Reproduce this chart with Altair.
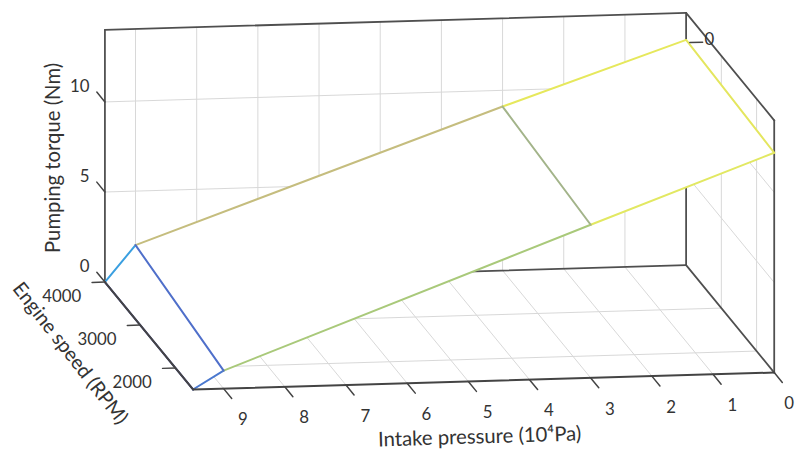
import altair as alt
import pandas as pd

# ---------------- data ----------------
pressure_grid = [9.5, 9.0, 3.0, 0.0]          # intake pressure, 10^4 Pa
speed_grid = [1500, 4000]                      # engine speed, RPM
torque_at_1500 = [0.0, 1.0, 8.5, 12.2]         # pumping torque, Nm
torque_at_4000 = [0.0, 2.0, 9.1, 12.5]

colors_along_p_1500 = ["#4a78cf", "#a9c97a", "#e2e862"]
colors_along_p_4000 = ["#3a9fe0", "#c5bd7e", "#e6e85c"]
colors_along_s = ["#3b3fa0", "#4f6fca", "#a3b48a", "#e4e65e"]

pressure_ticks = [0, 1, 2, 3, 4, 5, 6, 7, 8, 9]
speed_ticks = [2000, 3000, 4000]
torque_ticks = [0, 5, 10]
p_min, p_max = 0.0, 9.5
s_min, s_max = 1500, 4000
z_min, z_max = 0.0, 14.0

# ---------------- view: orthographic 3D -> 2D ----------------
W, H = 795, 446
ORIGIN = (774.0, 366.0)      # screen point of (p=0, s=1500, z=0)
EP = (-61.8, 1.8)            # per 10^4 Pa
ES = (-0.0356, -0.0434)      # per RPM
EZ = (0.0, -18.2)            # per Nm


def proj(p, s, z):
    ds = s - s_min
    return (ORIGIN[0] + EP[0] * p + ES[0] * ds + EZ[0] * z,
            ORIGIN[1] + EP[1] * p + ES[1] * ds + EZ[1] * z)


_sid = [0]


def seg_rows(pairs, color, width):
    rows = []
    for a, b in pairs:
        _sid[0] += 1
        for k, pt in enumerate((a, b)):
            x, y = proj(*pt)
            rows.append(dict(sid=_sid[0], k=k, x=x, y=y, color=color, w=width))
    return rows


GRID = "#d8d8d8"
BOX = "#4f4f4f"
TXT = "#333333"

# grid lines on back wall, floor and side wall
grid_pairs = []
for p in pressure_ticks[1:]:
    grid_pairs.append(((p, s_max, z_min), (p, s_max, z_max)))     # back wall
    grid_pairs.append(((p, s_min, z_min), (p, s_max, z_min)))     # floor
for z in torque_ticks[1:]:
    grid_pairs.append(((p_min, s_max, z), (p_max, s_max, z)))     # back wall
    grid_pairs.append(((p_min, s_min, z), (p_min, s_max, z)))     # side wall
for s in speed_ticks[:-1]:
    grid_pairs.append(((p_min, s, z_min), (p_max, s, z_min)))     # floor
    grid_pairs.append(((p_min, s, z_min), (p_min, s, z_max)))     # side wall
grid_df = pd.DataFrame(seg_rows(grid_pairs, GRID, 1.0))

back_pairs = [
    ((p_max, s_max, z_min), (p_max, s_max, z_max)),
    ((p_max, s_max, z_max), (p_min, s_max, z_max)),
    ((p_min, s_max, z_max), (p_min, s_max, z_min)),
    ((p_min, s_max, z_min), (p_max, s_max, z_min)),
    ((p_min, s_max, z_max), (p_min, s_min, z_max)),
    ((p_min, s_min, z_max), (p_min, s_min, z_min)),
    ((p_min, s_max, z_min), (p_min, s_min, z_min)),
]
back_df = pd.DataFrame(seg_rows(back_pairs, BOX, 1.8))

# white faces of the mesh (hidden-line removal)
face_rows = []
for i in range(len(pressure_grid) - 1):
    quad = [proj(pressure_grid[i], s_min, torque_at_1500[i]),
            proj(pressure_grid[i + 1], s_min, torque_at_1500[i + 1]),
            proj(pressure_grid[i + 1], s_max, torque_at_4000[i + 1]),
            proj(pressure_grid[i], s_max, torque_at_4000[i])]
    xs = sorted(set(round(v[0], 4) for v in quad))
    for x in xs:
        ys = []
        for j in range(4):
            (x1, y1), (x2, y2) = quad[j], quad[(j + 1) % 4]
            if abs(x2 - x1) < 1e-9:
                if abs(x - x1) < 1e-3:
                    ys += [y1, y2]
            elif min(x1, x2) - 1e-3 <= x <= max(x1, x2) + 1e-3:
                t = (x - x1) / (x2 - x1)
                ys.append(y1 + t * (y2 - y1))
        face_rows.append(dict(face=i, x=x, y=min(ys), y2=max(ys)))
face_df = pd.DataFrame(face_rows)

mesh_rows = []
for i in range(len(pressure_grid) - 1):
    mesh_rows += seg_rows([((pressure_grid[i], s_min, torque_at_1500[i]),
                            (pressure_grid[i + 1], s_min, torque_at_1500[i + 1]))],
                          colors_along_p_1500[i], 2.0)
    mesh_rows += seg_rows([((pressure_grid[i], s_max, torque_at_4000[i]),
                            (pressure_grid[i + 1], s_max, torque_at_4000[i + 1]))],
                          colors_along_p_4000[i], 2.0)
for i, p in enumerate(pressure_grid):
    mesh_rows += seg_rows([((p, s_min, torque_at_1500[i]), (p, s_max, torque_at_4000[i]))],
                          colors_along_s[i], 2.0)
mesh_df = pd.DataFrame(mesh_rows)

front_pairs = [
    ((p_min, s_min, z_min), (p_max, s_min, z_min)),
    ((p_max, s_min, z_min), (p_max, s_max, z_min)),
]
tick_pairs = []
for p in pressure_ticks:
    tick_pairs.append(((p, s_min, z_min), (p, s_min - 230, z_min)))
for s in speed_ticks:
    tick_pairs.append(((p_max, s, z_min), (p_max + 0.21, s, z_min)))
for z in torque_ticks:
    tick_pairs.append(((p_max, s_max, z), (p_max, s_max + 230, z)))
tick_pairs.append(((-0.06, s_max, 12.35), (-0.27, s_max, 12.35)))
front_df = pd.DataFrame(seg_rows(front_pairs, "#444444", 2.0) + seg_rows(tick_pairs, "#444444", 1.5))


# ---------------- labels ----------------
def pts(items, off=(0.0, 0.0)):
    rows = []
    for label, pt in items:
        x, y = proj(*pt)
        rows.append(dict(x=min(x + off[0], W - 6), y=y + off[1], label=label))
    return pd.DataFrame(rows)


p_lab = pts([(str(p), (p, s_min, z_min)) for p in pressure_ticks], (19.5, 32))
s_lab = pts([(str(s), (p_max, s, z_min)) for s in speed_ticks], (-24, 15))
z_lab = pts([(str(z), (p_max, s_max, z)) for z in torque_ticks], (-15.5, -15.5))
extra_lab = pts([("0", (-0.38, s_max, 12.45))])
t_z = pts([("Pumping torque (Nm)", (p_max, s_max, 7.0))], (-51, 2))
t_s = pts([("Engine speed (RPM)", (p_max, (s_min + s_max) / 2, z_min))], (-80, 18))
t_p = pts([("Intake pressure (10⁴Pa)", ((p_min + p_max) / 2, s_min, z_min))], (-4, 57))

X = alt.X("x:Q", scale=alt.Scale(domain=[0, W], nice=False, zero=False), axis=None)
Y = alt.Y("y:Q", scale=alt.Scale(domain=[0, H], nice=False, zero=False, reverse=True), axis=None)


def lines(df):
    return alt.Chart(df).mark_line(strokeCap="round").encode(
        x=X, y=Y, detail="sid:N", order="k:Q",
        color=alt.Color("color:N", scale=None),
        strokeWidth=alt.StrokeWidth("w:Q", scale=None),
    )


faces = alt.Chart(face_df).mark_area(color="white", opacity=1, orient="vertical").encode(
    x=X, y=Y, y2="y2:Q", detail="face:N")

FONT = "Lato"


def text(df, size, **kw):
    return alt.Chart(df).mark_text(font=FONT, fontSize=size, color=TXT, **kw).encode(
        x=X, y=Y, text="label:N")


chart = alt.layer(
    lines(grid_df),
    lines(back_df),
    faces,
    lines(mesh_df),
    lines(front_df),
    text(p_lab, 17, align="center", baseline="middle"),
    text(s_lab, 17, align="right", baseline="middle"),
    text(z_lab, 17, align="right", baseline="middle"),
    text(extra_lab, 17, align="center", baseline="middle"),
    text(t_z, 20.5, align="center", baseline="middle", angle=270),
    text(t_s, 20, align="center", baseline="middle", angle=52),
    text(t_p, 20.5, align="center", baseline="middle", angle=358.3),
).properties(width=W, height=H, padding=0, autosize="none", background="white"
).configure_view(stroke=None)

chart.save("out.html", embed_options={"renderer": "svg", "actions": False})
